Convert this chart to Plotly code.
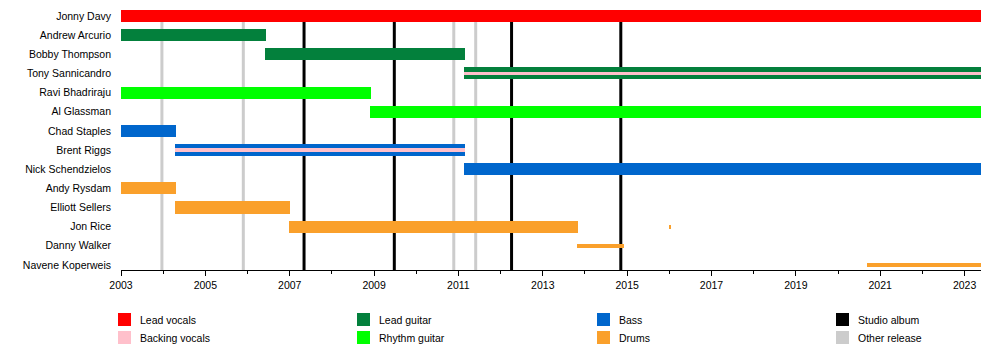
import plotly.graph_objects as go

# ---------------- data ----------------
members = [
    "Jonny Davy", "Andrew Arcurio", "Bobby Thompson", "Tony Sannicandro",
    "Ravi Bhadriraju", "Al Glassman", "Chad Staples", "Brent Riggs",
    "Nick Schendzielos", "Andy Rysdam", "Elliott Sellers", "Jon Rice",
    "Danny Walker", "Navene Koperweis",
]
END = 2023.39

seg_member = [
    "Jonny Davy", "Andrew Arcurio", "Bobby Thompson", "Tony Sannicandro",
    "Tony Sannicandro", "Ravi Bhadriraju", "Al Glassman", "Chad Staples",
    "Brent Riggs", "Brent Riggs", "Nick Schendzielos", "Andy Rysdam",
    "Elliott Sellers", "Jon Rice", "Jon Rice", "Danny Walker", "Navene Koperweis",
]
seg_role = [
    "Lead vocals", "Lead guitar", "Lead guitar", "Lead guitar",
    "Backing vocals", "Rhythm guitar", "Rhythm guitar", "Bass",
    "Bass", "Backing vocals", "Bass", "Drums",
    "Drums", "Drums", "Drums", "Drums", "Drums",
]
seg_start = [
    2003.0, 2003.0, 2006.42, 2011.14,
    2011.14, 2003.0, 2008.91, 2003.0,
    2004.28, 2004.28, 2011.14, 2003.0,
    2004.28, 2006.99, 2016.0, 2013.82, 2020.69,
]
seg_end = [
    END, 2006.44, 2011.15, END,
    END, 2008.92, END, 2004.3,
    2011.15, 2011.15, END, 2004.3,
    2007.0, 2013.83, 2016.04, 2014.93, END,
]

studio_albums = [2007.34, 2009.48, 2012.26, 2014.85]
other_releases = [2003.97, 2005.9, 2010.89, 2011.41]

year_ticks = list(range(2003, 2024, 2))

legend_rows = [
    ["Lead vocals", "Lead guitar", "Bass", "Studio album"],
    ["Backing vocals", "Rhythm guitar", "Drums", "Other release"],
]

# ---------------- styles ----------------
role_colors = {
    "Lead vocals": "#FF0000",
    "Backing vocals": "#FFC0CB",
    "Lead guitar": "#03803C",
    "Rhythm guitar": "#00FF00",
    "Bass": "#0066CC",
    "Drums": "#FAA02B",
    "Studio album": "#000000",
    "Other release": "#CCCCCC",
}
draw_order = ["Lead vocals", "Lead guitar", "Rhythm guitar", "Bass", "Drums", "Backing vocals"]
FULL_W = 0.63
THIN_W = 0.2
thin_segments = {14, 15, 16}
FONT = "Liberation Sans, Arial, sans-serif"
FS = 10.5

# page body has an 8px margin, so figure coords = page coords - OFF
OFF = 8
W, H = 1000, 360
ML = 121 - OFF
MR = W - (981 - OFF)
MT = 0
AXIS_Y = 270 - OFF
MB = H - AXIS_Y
PW, PH = W - ML - MR, H - MT - MB

ROW_PX = 19.15
Y_TOP = -(16 - OFF - MT) / ROW_PX
Y_BOTTOM = Y_TOP + PH / ROW_PX


def px_x(p):  # page pixel -> paper x
    return (p - OFF - ML) / PW


def px_y(p):  # page pixel -> paper y
    return (AXIS_Y - (p - OFF)) / PH


row_of = {m: i for i, m in enumerate(members)}

fig = go.Figure()

for role in draw_order:
    idx = [i for i, r in enumerate(seg_role) if r == role]
    widths = [THIN_W if (role == "Backing vocals" or i in thin_segments) else FULL_W for i in idx]
    fig.add_trace(go.Bar(
        orientation="h",
        y=[row_of[seg_member[i]] for i in idx],
        base=[seg_start[i] for i in idx],
        x=[seg_end[i] - seg_start[i] for i in idx],
        width=widths,
        marker=dict(color=role_colors[role], line=dict(width=0)),
        name=role,
        showlegend=False,
        customdata=[seg_member[i] for i in idx],
        hovertemplate="%{customdata}<extra>" + role + "</extra>",
    ))

for xv in other_releases:
    fig.add_shape(type="line", xref="x", yref="y", x0=xv, x1=xv, y0=-0.3, y1=Y_BOTTOM,
                  line=dict(color=role_colors["Other release"], width=3), layer="below")
for xv in studio_albums:
    fig.add_shape(type="line", xref="x", yref="y", x0=xv, x1=xv, y0=-0.3, y1=Y_BOTTOM,
                  line=dict(color=role_colors["Studio album"], width=3), layer="below")

# manual legend (4 columns x 2 rows), positions in page pixels
col_px = [118, 357, 597, 836]
row_px = [313, 331]
SQ = 13
for r, row in enumerate(legend_rows):
    for c, role in enumerate(row):
        x0 = col_px[c]
        y0 = row_px[r]
        fig.add_shape(type="rect", xref="paper", yref="paper",
                      x0=px_x(x0), x1=px_x(x0 + SQ), y0=px_y(y0 + SQ), y1=px_y(y0),
                      fillcolor=role_colors[role], line=dict(width=0), layer="above")
        fig.add_annotation(xref="paper", yref="paper", x=px_x(x0 + 20), y=px_y(y0 + SQ / 2),
                           text=role, showarrow=False, xanchor="left", yanchor="middle",
                           font=dict(family=FONT, size=FS, color="#000"))

fig.update_layout(
    width=W, height=H,
    margin=dict(l=ML, r=MR, t=MT, b=MB, autoexpand=False),
    barmode="overlay",
    plot_bgcolor="white", paper_bgcolor="white",
    font=dict(family=FONT, size=FS, color="#000000"),
    showlegend=False,
    bargap=0,
)
fig.update_xaxes(
    range=[2003, END], tickvals=year_ticks, ticktext=[str(y) for y in year_ticks],
    ticks="outside", ticklen=5, tickwidth=1, tickcolor="#000",
    showline=True, linecolor="#000", linewidth=1, showgrid=False, zeroline=False,
    minor=dict(ticks="outside", ticklen=3, tickwidth=1, tickcolor="#000",
               tickvals=list(range(2004, 2024, 2)), showgrid=False),
    tickfont=dict(family=FONT, size=FS), automargin=False,
)
fig.update_yaxes(
    range=[Y_BOTTOM, Y_TOP], tickvals=list(range(len(members))), ticktext=members,
    showgrid=False, zeroline=False, showline=False, ticks="",
    ticklabelstandoff=9, tickfont=dict(family=FONT, size=FS), automargin=False,
)

fig.write_html("out.html")
